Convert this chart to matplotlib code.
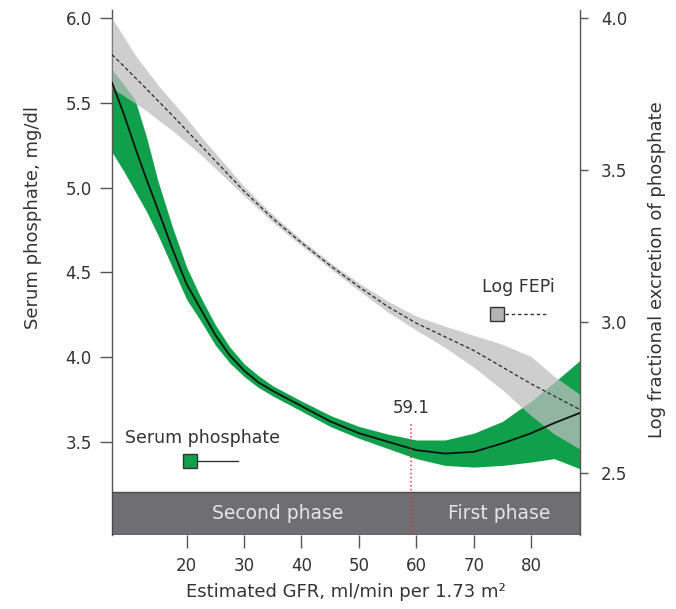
import matplotlib
matplotlib.use('Agg')
import matplotlib.pyplot as plt

# ---------------- data ----------------
gfr = [7, 9, 11, 13, 15, 17.5, 20, 22.5, 25, 27.5, 30, 32.5, 35, 40, 45, 50,
       55, 60, 65, 70, 75, 80, 84, 88.5]

serum_fit = [5.62, 5.44, 5.24, 5.05, 4.87, 4.64, 4.43, 4.28, 4.13, 4.01, 3.92,
             3.85, 3.80, 3.71, 3.62, 3.55, 3.50, 3.45, 3.43, 3.44, 3.49, 3.55,
             3.61, 3.67]
serum_hi = [5.70, 5.61, 5.52, 5.30, 5.04, 4.77, 4.53, 4.35, 4.19, 4.06, 3.96,
            3.89, 3.83, 3.74, 3.655, 3.59, 3.545, 3.51, 3.51, 3.55, 3.62, 3.74,
            3.85, 3.98]
serum_lo = [5.21, 5.10, 4.98, 4.86, 4.72, 4.53, 4.34, 4.21, 4.07, 3.965, 3.885,
            3.82, 3.77, 3.68, 3.59, 3.52, 3.46, 3.40, 3.36, 3.35, 3.36, 3.38,
            3.40, 3.34]

fepi_fit = [3.88, 3.843, 3.805, 3.767, 3.728, 3.68, 3.63, 3.58, 3.53, 3.48,
            3.43, 3.385, 3.34, 3.26, 3.185, 3.115, 3.05, 2.995, 2.95, 2.905,
            2.85, 2.795, 2.755, 2.71]
fepi_hi = [4.00, 3.94, 3.88, 3.83, 3.78, 3.725, 3.67, 3.61, 3.555, 3.50, 3.445,
           3.398, 3.352, 3.27, 3.195, 3.127, 3.068, 3.018, 2.985, 2.955, 2.925,
           2.885, 2.82, 2.76]
fepi_lo = [3.77, 3.745, 3.72, 3.695, 3.665, 3.63, 3.59, 3.55, 3.505, 3.46,
           3.415, 3.372, 3.328, 3.25, 3.175, 3.103, 3.032, 2.972, 2.915, 2.85,
           2.775, 2.69, 2.63, 2.58]

x_ticks = [20, 30, 40, 50, 60, 70, 80]
left_ticks = [3.5, 4.0, 4.5, 5.0, 5.5, 6.0]
right_ticks = [2.5, 3.0, 3.5, 4.0]
breakpoint_gfr = 59.1
phase_labels = ['Second phase', 'First phase']
phase_label_x = [35.9, 74.5]

# ---------------- styling ----------------
GREEN = '#10a04b'
GRAY_BAND = '#bebebe'
BAND = '#6f6f73'
TXT = '#333333'
AX = '#555555'

XLIM = (7, 88.5)
YL = (2.949, 6.049)
YR = (2.297, 4.027)
BAND_TOP = 3.203

fig = plt.figure(figsize=(6.76, 6.09), dpi=100)
pos = [112 / 676, 1 - 535 / 609, 468 / 676, 525 / 609]
ax = fig.add_axes(pos)
ax2 = ax.twinx()
top = fig.add_axes(pos, sharex=ax, sharey=ax)
top.patch.set_visible(False)
top.axis('off')

ax.set_xlim(*XLIM)
ax.set_ylim(*YL)
ax2.set_ylim(*YR)

# green CI band (left axis)
ax.fill_between(gfr, serum_lo, serum_hi, color=GREEN, lw=0, zorder=2)
# phase band
ax.axhspan(YL[0], BAND_TOP, color=BAND, ec='#4a4a4e', lw=1.0, zorder=3)

# gray CI band and dashed fit (right axis)
ax2.fill_between(gfr, fepi_lo, fepi_hi, color=GRAY_BAND, alpha=0.75, lw=0, zorder=2)
ax2.plot(gfr, fepi_fit, color='#2a2a2a', lw=0.9, ls=(0, (3, 2)), zorder=3)

# serum fit line on top
top.plot(gfr, serum_fit, color='#111111', lw=1.3, zorder=5)

# breakpoint
top.vlines(breakpoint_gfr, YL[0], 3.61, colors='#d23a36', linestyles=':', lw=1.1, zorder=6)
top.text(breakpoint_gfr, 3.70, f'{breakpoint_gfr:.1f}', ha='center', va='center',
         fontsize=12, color=TXT)

# phase labels
for lab, xp in zip(phase_labels, phase_label_x):
    top.text(xp, (YL[0] + BAND_TOP) / 2, lab, ha='center', va='center',
             fontsize=13.5, color='#e6e6e6', zorder=7)

# legend-like keys
tr = top.transAxes
top.text(0.028, 0.185, 'Serum phosphate', transform=tr, ha='left', va='center',
         fontsize=12.5, color=TXT)
top.plot([0.182, 0.269], [0.141, 0.141], transform=tr, color='#333333', lw=1.0)
top.plot([0.167], [0.141], transform=tr, marker='s', ms=10, mfc=GREEN,
         mec='#333333', mew=1.0, ls='none')
top.text(0.868, 0.472, 'Log FEPi', transform=tr, ha='center', va='center',
         fontsize=12.5, color=TXT)
top.plot([0.84, 0.932], [0.421, 0.421], transform=tr, color='#333333', lw=1.0,
         ls=(0, (2.5, 2)))
top.plot([0.823], [0.421], transform=tr, marker='s', ms=10, mfc='#b4b4b4',
         mec='#333333', mew=1.0, ls='none')

# spines
for s in ['top', 'right', 'bottom']:
    ax.spines[s].set_visible(False)
for s in ['top', 'left', 'bottom']:
    ax2.spines[s].set_visible(False)
ax.spines['left'].set_color(AX)
ax.spines['left'].set_linewidth(1.0)
ax2.spines['right'].set_color(AX)
ax2.spines['right'].set_linewidth(1.0)

ax.set_xticks(x_ticks)
ax.set_yticks(left_ticks)
ax.set_yticklabels([f'{v:.1f}' for v in left_ticks])
ax2.set_yticks(right_ticks)
ax2.set_yticklabels([f'{v:.1f}' for v in right_ticks])

ax.tick_params(axis='x', direction='out', length=9, width=1, color=AX,
               labelsize=12, labelcolor=TXT, pad=7)
ax.tick_params(axis='y', direction='out', length=8.5, width=1, color=AX,
               labelsize=12, labelcolor=TXT, pad=6)
ax2.tick_params(axis='y', direction='out', length=6, width=1, color=AX,
                labelsize=12, labelcolor=TXT, pad=9)

ax.set_xlabel('Estimated GFR, ml/min per 1.73 m²', fontsize=13, color=TXT)
ax.xaxis.set_label_coords(0.5, -0.091)
ax.set_ylabel('Serum phosphate, mg/dl', fontsize=13, color=TXT)
ax.yaxis.set_label_coords(-0.15, 0.604)
ax2.set_ylabel('Log fractional excretion of phosphate', fontsize=13, color=TXT)
ax2.yaxis.set_label_coords(1.145, 0.505)

fig.savefig('out.png', dpi=100, facecolor='white')
